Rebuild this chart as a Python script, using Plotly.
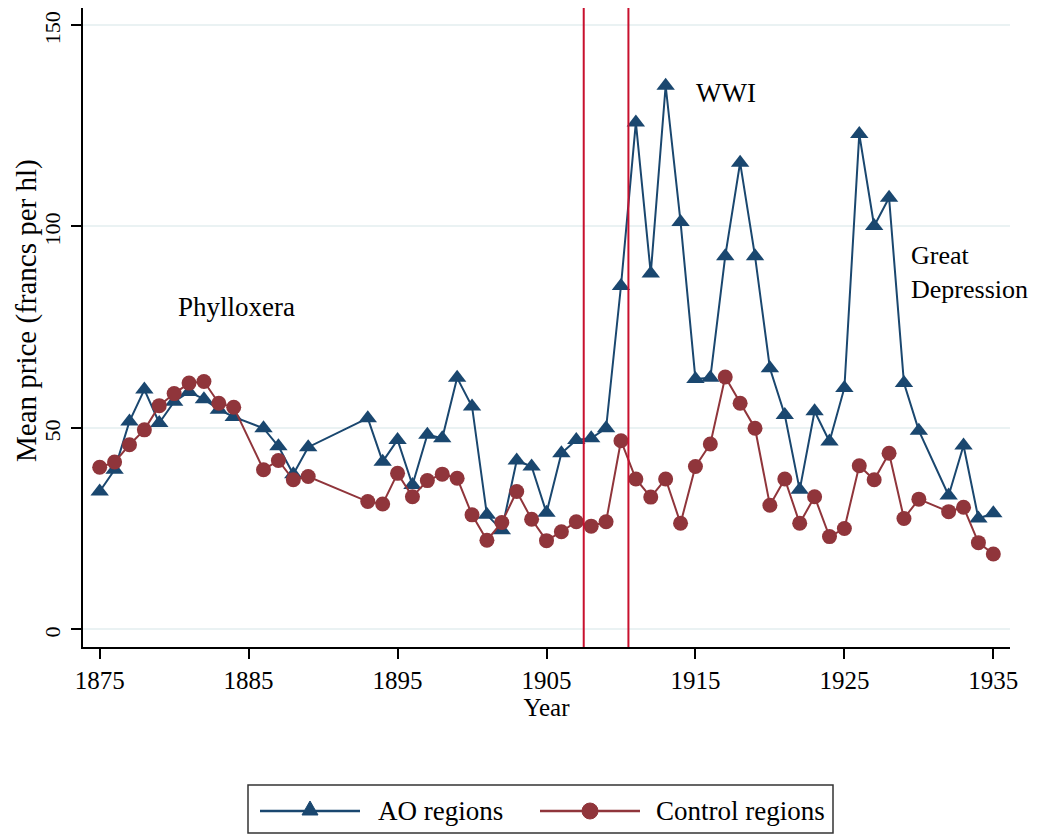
import plotly.graph_objects as go

# ---------------- data ----------------
years = [1875, 1876, 1877, 1878, 1879, 1880, 1881, 1882, 1883, 1884,
         1886, 1887, 1888, 1889,
         1893, 1894, 1895, 1896, 1897, 1898, 1899, 1900, 1901, 1902,
         1903, 1904, 1905, 1906, 1907, 1908, 1909, 1910, 1911, 1912,
         1913, 1914, 1915, 1916, 1917, 1918, 1919, 1920, 1921, 1922,
         1923, 1924, 1925, 1926, 1927, 1928, 1929, 1930,
         1932, 1933, 1934, 1935]

ao_regions = [34.2, 39.6, 51.6, 59.5, 51.2, 56.5, 58.9, 57.1, 54.5, 52.7,
              49.9, 45.4, 38.5, 45.2,
              52.4, 41.6, 47.0, 35.8, 48.3, 47.4, 62.4, 55.3, 28.4, 24.6,
              41.9, 40.4, 28.9, 43.7, 47.0, 47.4, 49.9, 85.2, 125.8, 88.3,
              134.9, 101.1, 62.1, 62.4, 92.6, 115.8, 92.6, 64.8, 53.2, 34.6,
              54.1, 46.6, 59.9, 122.9, 100.1, 107.1, 61.1, 49.3,
              33.2, 45.6, 27.5, 28.8]

control_regions = [40.2, 41.5, 45.8, 49.5, 55.5, 58.5, 61.1, 61.5, 56.1, 55.1,
                   39.6, 41.9, 37.1, 37.9,
                   31.7, 31.1, 38.7, 32.9, 36.9, 38.5, 37.5, 28.4, 22.1, 26.5,
                   34.2, 27.3, 22.0, 24.2, 26.7, 25.6, 26.7, 46.8, 37.3, 32.8,
                   37.3, 26.3, 40.4, 46.0, 62.6, 56.1, 49.9, 30.8, 37.3, 26.3,
                   32.9, 23.0, 25.0, 40.6, 37.1, 43.7, 27.5, 32.3,
                   29.2, 30.3, 21.5, 18.7]

event_lines = [1907.5, 1910.5]
x_ticks = [1875, 1885, 1895, 1905, 1915, 1925, 1935]
y_ticks = [0, 50, 100, 150]
series_names = ["AO regions", "Control regions"]
notes = [("Phylloxera", 1884.2, 80.0), ("WWI", 1917.05, 133.1),
         ("Great<br>Depression", 1929.35, 88.6)]

# ---------------- style ----------------
NAVY = "#1a476f"
MAROON = "#90353b"
RED = "#c8102e"
FONT = "Liberation Serif"
OFF = 8                      # page body margin in the browser
W, H = 1030, 829
ML, MR, MT, MB = 75, 28, 0, 190
PW, PH = W - ML - MR, H - MT - MB


def px(sx):
    """screen x (pixels) -> paper x"""
    return (sx - OFF - ML) / PW


def py(sy):
    """screen y (pixels) -> paper y"""
    return (H - MB - (sy - OFF)) / PH


fig = go.Figure()
fig.add_trace(go.Scatter(
    x=years, y=ao_regions, name=series_names[0], mode="lines+markers",
    line=dict(color=NAVY, width=2),
    marker=dict(symbol="triangle-up", size=16, color=NAVY),
    showlegend=False))
fig.add_trace(go.Scatter(
    x=years, y=control_regions, name=series_names[1], mode="lines+markers",
    line=dict(color=MAROON, width=2),
    marker=dict(symbol="circle", size=15, color=MAROON),
    showlegend=False))

shapes = []
for xv in event_lines:
    shapes.append(dict(type="line", xref="x", yref="paper", x0=xv, x1=xv,
                       y0=0, y1=1, line=dict(color=RED, width=2), layer="above"))

# manual Stata-style legend
shapes.append(dict(type="rect", xref="paper", yref="paper",
                   x0=px(248), x1=px(833), y0=py(833), y1=py(785),
                   line=dict(color="#333333", width=1.5), fillcolor="white"))
shapes.append(dict(type="line", xref="paper", yref="paper",
                   x0=px(260), x1=px(360), y0=py(811), y1=py(811),
                   line=dict(color=NAVY, width=2.5)))
tri = "M {:.5f},{:.5f} L {:.5f},{:.5f} L {:.5f},{:.5f} Z".format(
    px(310), py(801), px(302), py(815), px(318), py(815))
shapes.append(dict(type="path", xref="paper", yref="paper", path=tri,
                   fillcolor=NAVY, line=dict(color=NAVY, width=1)))
shapes.append(dict(type="line", xref="paper", yref="paper",
                   x0=px(540), x1=px(640), y0=py(811), y1=py(811),
                   line=dict(color=MAROON, width=2.5)))
shapes.append(dict(type="circle", xref="paper", yref="paper",
                   x0=px(582), x1=px(598), y0=py(819), y1=py(803),
                   fillcolor=MAROON, line=dict(color=MAROON, width=1)))
shapes.append(dict(type="line", xref="paper", yref="paper",
                   x0=px(1032), x1=px(1032), y0=py(836), y1=py(774),
                   line=dict(color="#d8e2e8", width=2)))

annotations = []
for txt, xv, yv in notes:
    anchor = "left" if "Depression" in txt else "center"
    size = 26 if "Depression" in txt else 27
    annotations.append(dict(text=txt, x=xv, y=yv, xref="x", yref="y",
                            showarrow=False, xanchor=anchor, yanchor="middle",
                            align="left", font=dict(family=FONT, size=size, color="black")))
annotations.append(dict(text=series_names[0], x=px(376), y=py(811), xref="paper",
                        yref="paper", showarrow=False, xanchor="left", yanchor="middle",
                        font=dict(family=FONT, size=27, color="black")))
annotations.append(dict(text=series_names[1], x=px(654), y=py(811), xref="paper",
                        yref="paper", showarrow=False, xanchor="left", yanchor="middle",
                        font=dict(family=FONT, size=27, color="black")))
# y-axis title
annotations.append(dict(text="Mean price (francs per hl)", x=px(26), y=py(311),
                        xref="paper", yref="paper", showarrow=False, textangle=-90,
                        xanchor="center", yanchor="middle",
                        font=dict(family=FONT, size=29, color="black")))

fig.update_layout(
    width=W, height=H,
    margin=dict(l=ML, r=MR, t=MT, b=MB, autoexpand=False),
    paper_bgcolor="white", plot_bgcolor="white",
    font=dict(family=FONT, color="black", size=24),
    shapes=shapes, annotations=annotations,
    showlegend=False,
)
fig.update_xaxes(
    range=[1873.88, 1936.12], tickvals=x_ticks, ticks="outside", ticklen=10,
    tickwidth=1.5, tickcolor="black", showline=True, linecolor="black", linewidth=1.5,
    showgrid=False, zeroline=False, tickfont=dict(size=25), automargin=False,
    title=dict(text="Year", font=dict(size=25), standoff=2),
)
fig.update_yaxes(
    range=[-4.4, 154.2], tickvals=y_ticks, ticks="outside", ticklen=10,
    tickwidth=1.5, tickcolor="black", showline=True, linecolor="black", linewidth=1.5,
    showgrid=True, gridcolor="#eaf2f3", gridwidth=2, zeroline=False,
    tickangle=-90, tickfont=dict(size=22), ticklabelstandoff=2, ticklabelshift=6,
    ticklabeloverflow="allow", automargin=False,
)

fig.write_html("out.html")
